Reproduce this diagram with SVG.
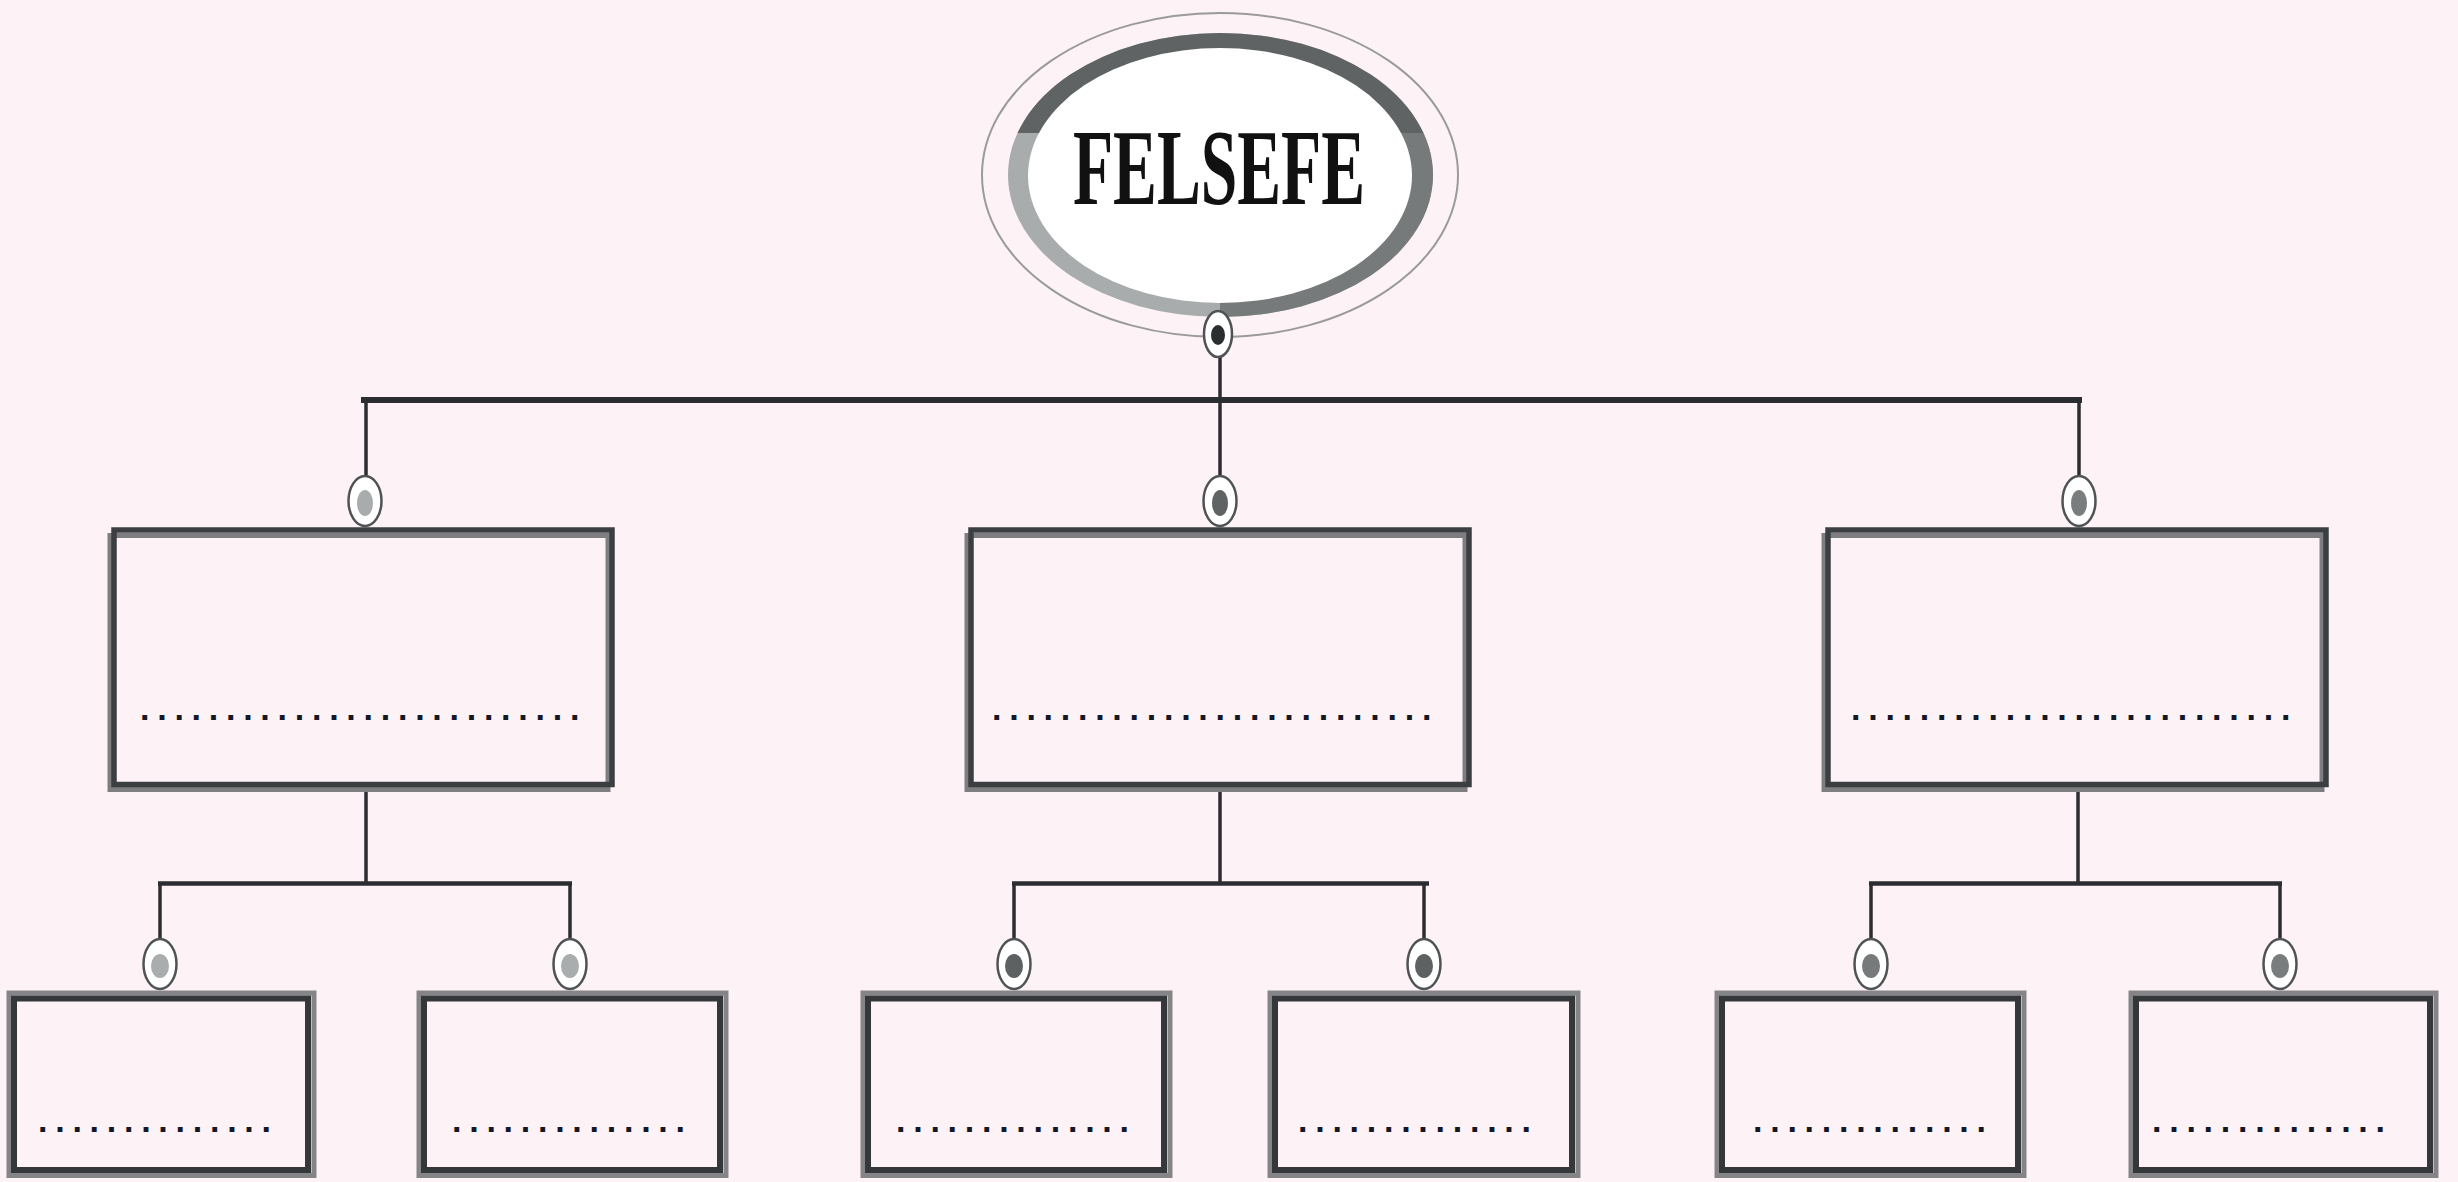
<svg xmlns="http://www.w3.org/2000/svg" width="2458" height="1182" viewBox="0 0 2458 1182">
  <defs>
    <style>
      .line { stroke:#2b2d30; fill:none; stroke-linecap:butt; }
      .v { stroke-width:3.5; }
      .bar1 { stroke-width:6; }
      .bar2 { stroke-width:4.5; }
      .port { fill:#ffffff; stroke:#505355; stroke-width:2.5; }
      .b1grey { fill:none; stroke:#7e7e80; stroke-width:5; }
      .b1dark { fill:none; stroke:#3c3f41; stroke-width:5.5; }
      .b2grey { fill:none; stroke:#858587; stroke-width:5; }
      .b2dark { fill:none; stroke:#35383a; stroke-width:6; }
      .dots { font-family:"Liberation Sans", Arial, sans-serif; font-weight:bold; font-size:34px; letter-spacing:7.75px; fill:#141726; }
      .title { font-family:"Liberation Serif", "Times New Roman", serif; font-weight:bold; font-size:107px; fill:#111111; }
    </style>
    <clipPath id="ringTop"><rect x="990" y="20" width="460" height="113"/></clipPath>
    <clipPath id="ringBotRight"><rect x="1220" y="133" width="240" height="200"/></clipPath>
  </defs>

  <rect x="0" y="0" width="2458" height="1182" fill="#fdf3f6"/>

  <g id="connectors">
    <line class="line v" x1="1220" y1="356" x2="1220" y2="400"/>
    <line class="line bar1" x1="361" y1="400" x2="2082" y2="400"/>
    <line class="line v" x1="366" y1="400" x2="366" y2="476"/>
    <line class="line v" x1="1220" y1="400" x2="1220" y2="476"/>
    <line class="line v" x1="2079" y1="400" x2="2079" y2="476"/>

    <line class="line v" x1="366" y1="790" x2="366" y2="883"/>
    <line class="line bar2" x1="158" y1="883.5" x2="572" y2="883.5"/>
    <line class="line v" x1="160" y1="883" x2="160" y2="939"/>
    <line class="line v" x1="570" y1="883" x2="570" y2="939"/>

    <line class="line v" x1="1220" y1="790" x2="1220" y2="883"/>
    <line class="line bar2" x1="1012" y1="883.5" x2="1429" y2="883.5"/>
    <line class="line v" x1="1014" y1="883" x2="1014" y2="939"/>
    <line class="line v" x1="1424" y1="883" x2="1424" y2="939"/>

    <line class="line v" x1="2078" y1="790" x2="2078" y2="883"/>
    <line class="line bar2" x1="1869" y1="883.5" x2="2282" y2="883.5"/>
    <line class="line v" x1="1871" y1="883" x2="1871" y2="939"/>
    <line class="line v" x1="2280" y1="883" x2="2280" y2="939"/>
  </g>

  <g id="node-felsefe">
    <ellipse cx="1220" cy="175" rx="238" ry="162" fill="none" stroke="#9a9a9c" stroke-width="2"/>
    <ellipse cx="1220.5" cy="175" rx="212.5" ry="142" fill="#a9acac"/>
    <ellipse cx="1220.5" cy="175" rx="212.5" ry="142" fill="#777a7a" clip-path="url(#ringBotRight)"/>
    <ellipse cx="1220.5" cy="175" rx="212.5" ry="142" fill="#5f6363" clip-path="url(#ringTop)"/>
    <ellipse cx="1220" cy="175.5" rx="192" ry="127.5" fill="#ffffff"/>
    <text class="title" x="1219" y="204" text-anchor="middle" textLength="292" lengthAdjust="spacingAndGlyphs">FELSEFE</text>
    <ellipse class="port" cx="1218" cy="334" rx="14" ry="23"/>
    <ellipse cx="1218" cy="335" rx="7" ry="10" fill="#2b2e2f"/>
  </g>

  <g id="node-l1-left">
    <ellipse class="port" cx="365" cy="501" rx="16.5" ry="25"/>
    <ellipse cx="365" cy="503" rx="8" ry="13" fill="#a9acac"/>
    <rect class="b1grey" x="110" y="535.5" width="498" height="254"/>
    <rect class="b1dark" x="114" y="530" width="498" height="254.5"/>
    <text class="dots" x="140" y="720">..........................</text>
  </g>

  <g id="node-l1-middle">
    <ellipse class="port" cx="1220" cy="501" rx="16.5" ry="25"/>
    <ellipse cx="1220" cy="503" rx="8" ry="13" fill="#5f6363"/>
    <rect class="b1grey" x="967" y="535.5" width="498" height="254"/>
    <rect class="b1dark" x="971" y="530" width="498" height="254.5"/>
    <text class="dots" x="992" y="720">..........................</text>
  </g>

  <g id="node-l1-right">
    <ellipse class="port" cx="2079" cy="501" rx="16.5" ry="25"/>
    <ellipse cx="2079" cy="503" rx="8" ry="13" fill="#7a7d7d"/>
    <rect class="b1grey" x="1824" y="535.5" width="498" height="254"/>
    <rect class="b1dark" x="1828" y="530" width="498" height="254.5"/>
    <text class="dots" x="1851" y="720">..........................</text>
  </g>

  <g id="node-l2-1">
    <ellipse class="port" cx="160" cy="964" rx="16.5" ry="25"/>
    <ellipse cx="160" cy="966" rx="9" ry="12" fill="#aaadad"/>
    <rect class="b2grey" x="9" y="993" width="305" height="182.5"/>
    <rect class="b2dark" x="14" y="998.5" width="294" height="171.5"/>
    <text class="dots" x="38" y="1132">..............</text>
  </g>

  <g id="node-l2-2">
    <ellipse class="port" cx="570" cy="964" rx="16.5" ry="25"/>
    <ellipse cx="570" cy="966" rx="9" ry="12" fill="#aaadad"/>
    <rect class="b2grey" x="419" y="993" width="307" height="182.5"/>
    <rect class="b2dark" x="424" y="998.5" width="296" height="171.5"/>
    <text class="dots" x="452" y="1132">..............</text>
  </g>

  <g id="node-l2-3">
    <ellipse class="port" cx="1014" cy="964" rx="16.5" ry="25"/>
    <ellipse cx="1014" cy="966" rx="9" ry="12" fill="#5d6161"/>
    <rect class="b2grey" x="863" y="993" width="307" height="182.5"/>
    <rect class="b2dark" x="868" y="998.5" width="296" height="171.5"/>
    <text class="dots" x="896" y="1132">..............</text>
  </g>

  <g id="node-l2-4">
    <ellipse class="port" cx="1424" cy="964" rx="16.5" ry="25"/>
    <ellipse cx="1424" cy="966" rx="9" ry="12" fill="#5d6161"/>
    <rect class="b2grey" x="1270" y="993" width="308" height="182.5"/>
    <rect class="b2dark" x="1275" y="998.5" width="297" height="171.5"/>
    <text class="dots" x="1298" y="1132">..............</text>
  </g>

  <g id="node-l2-5">
    <ellipse class="port" cx="1871" cy="964" rx="16.5" ry="25"/>
    <ellipse cx="1871" cy="966" rx="9" ry="12" fill="#777a7a"/>
    <rect class="b2grey" x="1717" y="993" width="307" height="182.5"/>
    <rect class="b2dark" x="1722" y="998.5" width="296" height="171.5"/>
    <text class="dots" x="1753" y="1132">..............</text>
  </g>

  <g id="node-l2-6">
    <ellipse class="port" cx="2280" cy="964" rx="16.5" ry="25"/>
    <ellipse cx="2280" cy="966" rx="9" ry="12" fill="#7a7d7d"/>
    <rect class="b2grey" x="2131" y="993" width="305" height="182.5"/>
    <rect class="b2dark" x="2136" y="998.5" width="294" height="171.5"/>
    <text class="dots" x="2152" y="1132">..............</text>
  </g>
</svg>
